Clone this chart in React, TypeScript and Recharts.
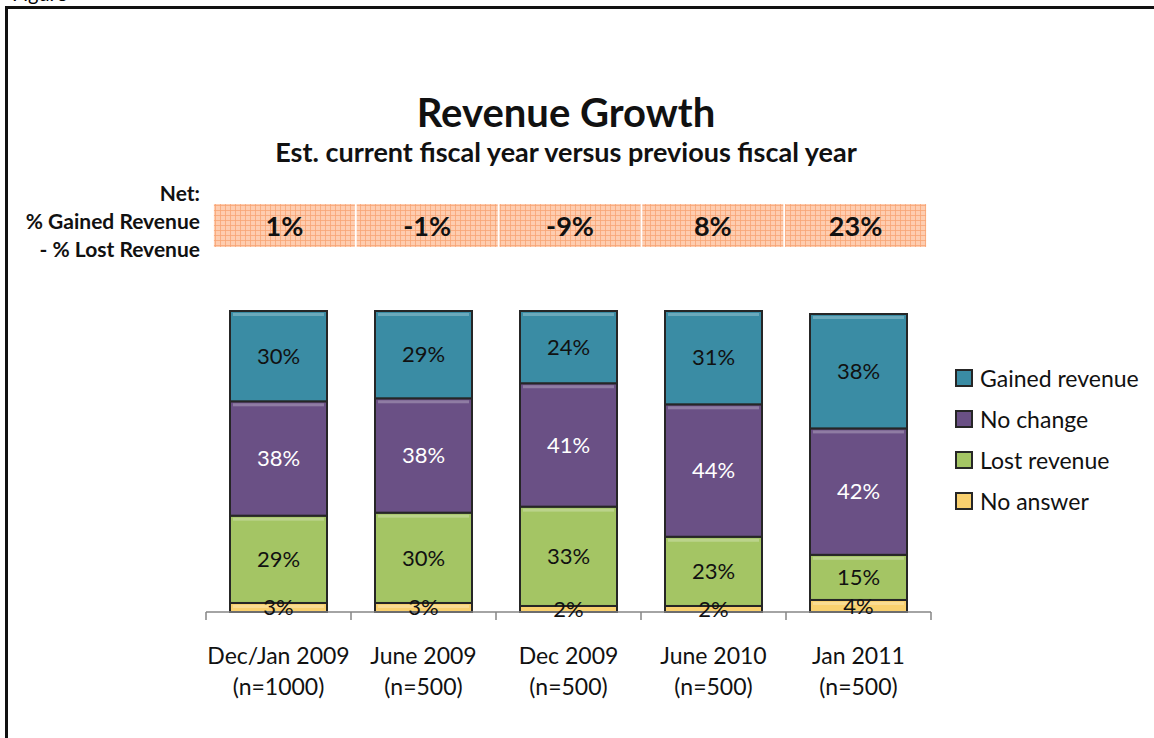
import React from "react"
import { BarChart, Bar, XAxis, YAxis, LabelList } from "recharts"

const periods = ["Dec/Jan 2009", "June 2009", "Dec 2009", "June 2010", "Jan 2011"]
const sampleSizes = ["(n=1000)", "(n=500)", "(n=500)", "(n=500)", "(n=500)"]
const gainedRevenue = [30, 29, 24, 31, 38]
const noChange = [38, 38, 41, 44, 42]
const lostRevenue = [29, 30, 33, 23, 15]
const noAnswer = [3, 3, 2, 2, 4]
const netValues = ["1%", "-1%", "-9%", "8%", "23%"]

const FONT = "Lato, 'Open Sans', sans-serif"
const BAND = 145 // plot width / number of periods

const series = [
  { key: "noAnswer", name: "No answer", color: "#F9D06E", label: "#111" },
  { key: "lost", name: "Lost revenue", color: "#A4C564", label: "#111" },
  { key: "noChange", name: "No change", color: "#6A5085", label: "#fff" },
  { key: "gained", name: "Gained revenue", color: "#3A8CA4", label: "#111" },
]

const data = periods.map((period, i) => ({
  period,
  gained: gainedRevenue[i],
  noChange: noChange[i],
  lost: lostRevenue[i],
  noAnswer: noAnswer[i],
}))

// bevelled segment, roughly like the excel preset
function SegmentShape(props: any) {
  const { x, y, width, height, fill } = props
  if (!height || height <= 0) return null
  return (
    <g>
      <rect x={x} y={y} width={width} height={height} fill={fill} stroke="#262626" strokeWidth={2} />
      {height > 8 && (
        <rect x={x + 3} y={y + 2} width={width - 6} height={3} fill="#fff" opacity={0.25} />
      )}
    </g>
  )
}

function CategoryTick(props: any) {
  const { x, y, payload } = props
  const i = payload.index
  return (
    <g>
      <line x1={x - BAND / 2} x2={x - BAND / 2} y1={y} y2={y + 8} stroke="#868686" strokeWidth={1.5} />
      {i === periods.length - 1 && (
        <line x1={x + BAND / 2} x2={x + BAND / 2} y1={y} y2={y + 8} stroke="#868686" strokeWidth={1.5} />
      )}
      <text x={x} y={y + 52} textAnchor="middle" fontFamily={FONT} fontSize={23} fill="#111">
        {periods[i]}
      </text>
      <text x={x} y={y + 83} textAnchor="middle" fontFamily={FONT} fontSize={23} fill="#111">
        {sampleSizes[i]}
      </text>
    </g>
  )
}

function NetTick(props: any) {
  const { x, y, payload } = props
  const i = payload.index
  return (
    <g>
      <rect x={x - 70.5} y={y - 107} width={141} height={43} fill="url(#netGrid)" />
      <text x={x} y={y - 75} textAnchor="middle" fontFamily={FONT} fontWeight="bold" fontSize={27} fill="#111">
        {netValues[i]}
      </text>
    </g>
  )
}

function LegendBox() {
  const items = [...series].reverse()
  return (
    <div style={{ position: "absolute", left: 955, top: 357, fontFamily: FONT }}>
      {items.map((s) => (
        <div key={s.key} style={{ display: "flex", alignItems: "center", height: 41 }}>
          <span
            style={{
              display: "inline-block",
              width: 14,
              height: 14,
              background: s.color,
              border: "2px solid #262626",
              marginRight: 7,
            }}
          />
          <span style={{ fontSize: 23, color: "#111" }}>{s.name}</span>
        </div>
      ))}
    </div>
  )
}

export default function App() {
  return (
    <div style={{ position: "absolute", left: 0, top: 0, width: 1154, height: 738, overflow: "hidden", background: "#fff" }}>
      <div style={{ position: "absolute", left: 12, top: -19, fontFamily: FONT, fontSize: 20 }}>Figure</div>
      <div style={{ position: "absolute", left: 5, top: 6, width: 1200, height: 800, border: "3px solid #111" }} />

      <div style={{ position: "absolute", left: 0, width: 1132, top: 90, textAlign: "center", fontFamily: FONT, fontWeight: "bold", fontSize: 40, lineHeight: "44px", color: "#111" }}>
        Revenue Growth
      </div>
      <div style={{ position: "absolute", left: 0, width: 1132, top: 136, textAlign: "center", fontFamily: FONT, fontWeight: "bold", fontSize: 27, lineHeight: "32px", color: "#111" }}>
        Est. current fiscal year versus previous fiscal year
      </div>

      <div style={{ position: "absolute", right: 1154 - 200, top: 179, width: 200, textAlign: "right", fontFamily: FONT, fontWeight: "bold", fontSize: 21, lineHeight: "28px", color: "#111", whiteSpace: "nowrap" }}>
        <div>Net:</div>
        <div>% Gained Revenue</div>
        <div>- % Lost Revenue</div>
      </div>

      <div style={{ position: "absolute", left: 0, top: 0 }}>
        <BarChart width={1154} height={738} data={data} margin={{ top: 190, right: 223, bottom: 0, left: 206 }}>
          <defs>
            <pattern id="netGrid" width={5} height={5} patternUnits="userSpaceOnUse">
              <rect width={5} height={5} fill="#FECDB0" />
              <path d="M0 0.5 H5 M0.5 0 V5" stroke="#F7A475" strokeWidth={0.8} />
            </pattern>
          </defs>
          <YAxis hide domain={[0, 100]} />
          <XAxis
            xAxisId="cat"
            dataKey="period"
            stroke="#868686"
            strokeWidth={1.5}
            tickLine={false}
            tickSize={0}
            tickMargin={0}
            height={126}
            interval={0}
            tick={<CategoryTick />}
          />
          <XAxis
            xAxisId="net"
            orientation="top"
            dataKey="period"
            axisLine={false}
            tickLine={false}
            tickSize={0}
            tickMargin={0}
            height={121}
            interval={0}
            padding={{ left: 7, right: 4 }}
            tick={<NetTick />}
          />
          {series.map((s) => (
            <Bar
              key={s.key}
              xAxisId="cat"
              dataKey={s.key}
              name={s.name}
              stackId="a"
              fill={s.color}
              barSize={97}
              shape={<SegmentShape />}
              isAnimationActive={false}
            >
              <LabelList
                dataKey={s.key}
                position="center"
                formatter={(v: any) => `${v}%`}
                fill={s.label}
                fontSize={22}
                fontFamily={FONT}
              />
            </Bar>
          ))}
        </BarChart>
      </div>
      <LegendBox />
    </div>
  )
}
